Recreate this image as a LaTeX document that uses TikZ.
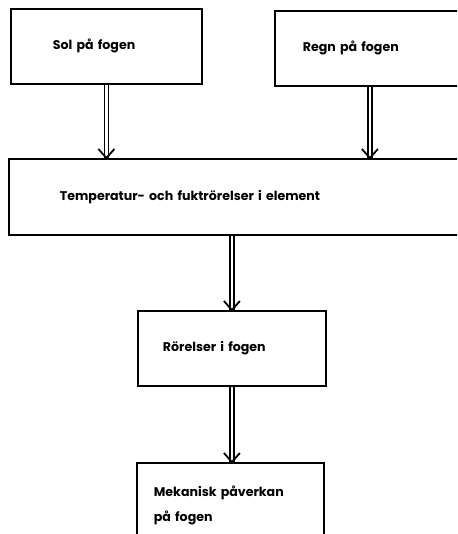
\documentclass[tikz,border=0pt]{standalone}
\usepackage{fontspec}
\setmainfont{Poppins}
\tikzset{
  box/.style={draw, line width=1.8pt, anchor=north west, align=left,
    font=\fontsize{12.6}{25}\selectfont\bfseries, inner ysep=0pt},
  dbl/.style={draw, line width=1.5pt, double, double distance=2.2pt},
  vhead/.style={draw, line width=1.8pt, line join=miter}
}
\newcommand{\vtip}[1]{\draw[vhead] ([shift={(-8,-9)}]#1) -- (#1) -- ([shift={(8,-9)}]#1);}
\begin{document}
\begin{tikzpicture}[x=1pt, y=-1pt]
  \useasboundingbox (0,0) rectangle (457,534);
  \clip (0,0) rectangle (457,534);
  \fill[white] (0,0) rectangle (457,534);

  % top row
  \node[box, minimum width=191pt, minimum height=75pt, text width=107pt, inner xsep=42pt]
    (sol) at (10,8) {Sol på fogen};
  \node[box, minimum width=190pt, minimum height=75pt, text width=134pt, inner xsep=28pt]
    (regn) at (274,10) {Regn på fogen};

  % wide middle box
  \node[box, minimum width=456pt, minimum height=76pt, text width=354pt, inner xsep=51pt]
    (temp) at (8,158) {Temperatur- och fuktrörelser i element};

  % lower chain
  \node[box, minimum width=188pt, minimum height=75pt, text width=138pt, inner xsep=25pt]
    (ror) at (137,310) {Rörelser i fogen};
  \node[box, minimum width=187pt, minimum height=86pt, text width=153pt, inner xsep=17pt]
    (mek) at (136,462) {Mekanisk påverkan\\på fogen};

  % double-line connectors with open heads
  \coordinate (t1) at (sol.south |- temp.north);
  \coordinate (t2) at (regn.south |- temp.north);
  \coordinate (t3) at (temp.south -| ror.north);
  \coordinate (t4) at (mek.north -| ror.south);
  \draw[dbl] (sol.south) -- (t1);
  \draw[dbl] (regn.south) -- (t2);
  \draw[dbl] (t3) -- (ror.north);
  \draw[dbl] (ror.south) -- (t4);
  \vtip{t1}
  \vtip{t2}
  \vtip{ror.north}
  \vtip{t4}
\end{tikzpicture}
\end{document}
